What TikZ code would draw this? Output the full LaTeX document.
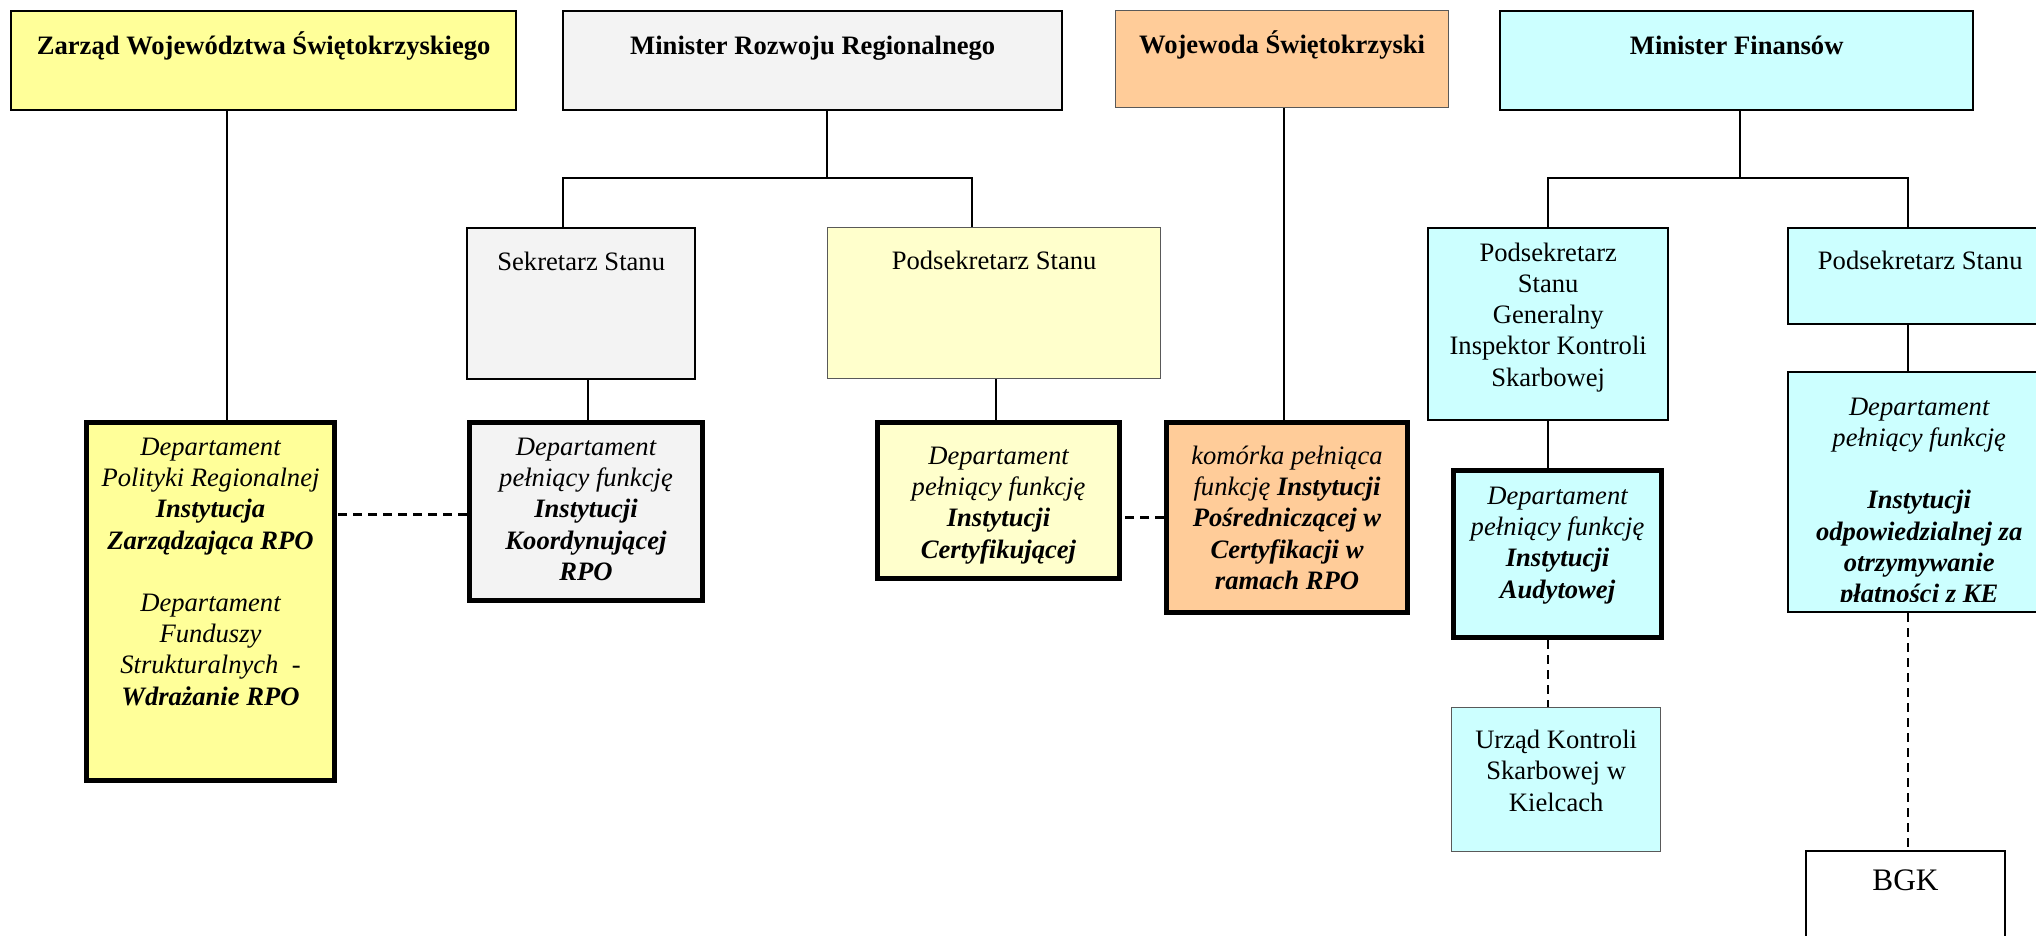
\documentclass[tikz,border=0pt]{standalone}
\usepackage{fontspec}
\setmainfont{Liberation Serif}
\usepackage{tikz}
\usetikzlibrary{positioning,calc}

\definecolor{zoltyA}{HTML}{FFFF99}
\definecolor{zoltyB}{HTML}{FFFFCC}
\definecolor{szary}{HTML}{F3F3F3}
\definecolor{brzoskw}{HTML}{FFCC99}
\definecolor{cyjan}{HTML}{CCFFFF}

% width, height, first baseline, text
\newcommand{\ramka}[4]{\parbox[c][#2pt][t]{#1pt}{\centering\rule{0pt}{#3pt}#4}}

\begin{document}
\begin{tikzpicture}[x=1pt, y=-1pt,
    box/.style={draw, inner sep=0pt, anchor=north west, font=\fontsize{26.6}{31.2}\selectfont},
    cienka/.style={line width=1.3pt, draw=black!65},
    srednia/.style={line width=2.4pt},
    gruba/.style={line width=5pt},
    conn/.style={line width=2pt},
    przer/.style={line width=2.2pt, dash pattern=on 9pt off 6pt}]
    \clip (0,0) rectangle (2036,936);

    % Top row
    \node[box, srednia, fill=zoltyA] (zwz) at (10,10) {\ramka{505}{99}{43}{\bfseries Zarząd Województwa Świętokrzyskiego}};
    \node[box, srednia, fill=szary] (mrr) at (562,10) {\ramka{499}{99}{43}{\bfseries Minister Rozwoju Regionalnego}};
    \node[box, cienka, fill=brzoskw] (woj) at (1115,10) {\ramka{333}{97}{43}{\bfseries Wojewoda Świętokrzyski}};
    \node[box, srednia, fill=cyjan] (mf) at (1499,10) {\ramka{473}{99}{43}{\bfseries Minister Finansów}};

    % Second row
    \node[box, srednia, fill=szary] (sekr) at (466,227) {\ramka{228}{151}{42}{Sekretarz Stanu}};
    \node[box, cienka, fill=zoltyB] (psmrr) at (827,227) {\ramka{333}{151}{42}{Podsekretarz Stanu}};
    \node[box, srednia, fill=cyjan] (giks) at (1427,227) {\ramka{240}{192}{33}{Podsekretarz\\ Stanu\\ Generalny\\ Inspektor Kontroli\\ Skarbowej}};
    \node[box, srednia, fill=cyjan] (psmf) at (1787,227) {\ramka{264}{96}{41}{Podsekretarz Stanu}};

    % Departments
    \node[box, gruba, fill=zoltyA] (dpr) at (84,420) {\ramka{248}{358}{33}{\itshape Departament\\ Polityki Regionalnej\\ \textbf{Instytucja}\\ \textbf{Zarządzająca RPO}\\[31.2pt] Departament\\ Funduszy\\ Strukturalnych\ \ -\\ \textbf{Wdrażanie RPO}}};
    \node[box, gruba, fill=szary] (koord) at (467,420) {\ramka{233}{178}{33}{\itshape Departament\\ pełniący funkcję\\ \textbf{Instytucji}\\ \textbf{Koordynującej}\\ \textbf{RPO}}};
    \node[box, gruba, fill=zoltyB] (cert) at (875,420) {\ramka{242}{156}{42}{\itshape Departament\\ pełniący funkcję\\ \textbf{Instytucji}\\ \textbf{Certyfikującej}}};
    \node[box, gruba, fill=brzoskw] (kom) at (1164,420) {\ramka{241}{190}{42}{\itshape komórka pełniąca\\ funkcję \textbf{Instytucji}\\ \textbf{Pośredniczącej w}\\ \textbf{Certyfikacji w}\\ \textbf{ramach RPO}}};
    \node[box, gruba, fill=cyjan] (aud) at (1451,468) {\ramka{208}{167}{34}{\itshape Departament\\ pełniący funkcję\\ \textbf{Instytucji}\\ \textbf{Audytowej}}};
    \node[box, cienka, fill=cyjan] (uksk) at (1451,707) {\ramka{209}{144}{41}{Urząd Kontroli\\ Skarbowej w\\ Kielcach}};

    % Payments department, text cut at the bottom
    \node[box, srednia, fill=cyjan, minimum width=264pt, minimum height=240pt] (platn) at (1787,371) {};
    \begin{scope}
        \clip (platn.north west) rectangle ([yshift=12pt]platn.south east);
        \node[box, draw=none] (platntxt) at (platn.north west) {\ramka{264}{240}{44}{\itshape Departament\\ pełniący funkcję\\[31.2pt] \textbf{Instytucji}\\ \textbf{odpowiedzialnej za}\\ \textbf{otrzymywanie}\\ \textbf{płatności z KE}}};
    \end{scope}
    \node[box, line width=1.8pt, fill=white, font=\fontsize{31.3}{36}\selectfont] (bgk) at (1805,850) {\ramka{199}{120}{40}{BGK}};

    % Lines
    \draw[conn] ([xshift=-36.5pt]zwz.south) -- ([xshift=-36.5pt]zwz.south |- dpr.north);
    \coordinate (mrrj) at (827,178);
    \draw[conn] (mrr.south -| mrrj) -- (mrrj);
    \draw[conn] ([xshift=-18pt]sekr.north) |- (mrrj) -| ([xshift=-22.5pt]psmrr.north);
    \draw[conn] ([xshift=7pt]sekr.south) -- ([xshift=7pt]sekr.south |- koord.north);
    \draw[conn] ([xshift=1.5pt]psmrr.south) -- ([xshift=1.5pt]psmrr.south |- cert.north);
    \draw[conn] ([xshift=1.5pt]woj.south) -- ([xshift=1.5pt]woj.south |- kom.north);
    \coordinate (mfj) at (1740,178);
    \draw[conn] (mf.south -| mfj) -- (mfj);
    \draw[conn] (giks.north) |- (mfj) -| ([xshift=-12pt]psmf.north);
    \draw[conn] (giks.south) -- (giks.south |- aud.north);
    \draw[conn] ([xshift=-12pt]psmf.south) -- ([xshift=-12pt]psmf.south |- platn.north);

    % Dashed lines
    \draw[przer] (giks.south |- aud.south) -- (giks.south |- uksk.north);
    \draw[przer] ([xshift=-12pt]platn.south) -- ([xshift=-12pt]platn.south |- bgk.north);
    \draw[przer] ([yshift=-3pt]koord.west) -- ([yshift=-3pt]koord.west -| dpr.east);
    \draw[przer] (kom.west) -- (kom.west -| cert.east);
\end{tikzpicture}
\end{document}
